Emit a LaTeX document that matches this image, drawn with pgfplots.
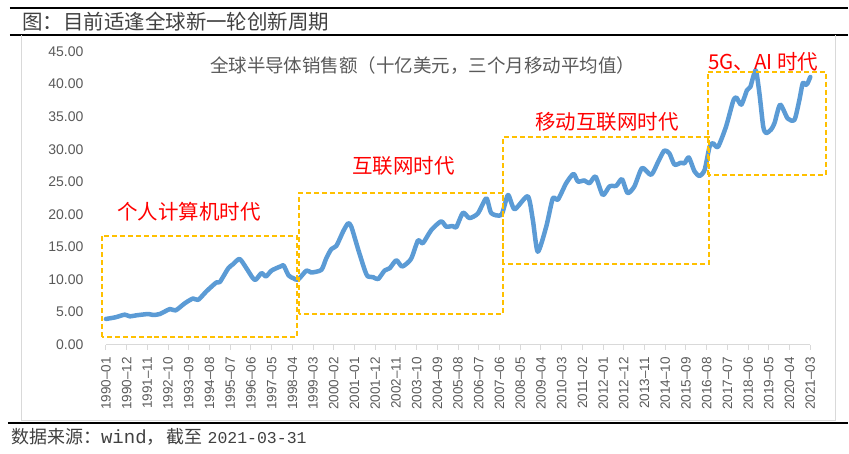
\documentclass[border=0pt]{standalone}
\usepackage{pgfplots}
\pgfplotsset{compat=1.18}
\usepackage{fontspec}
\setmainfont{Noto Sans CJK SC}
\newfontfamily\lsans{Liberation Sans}
\newfontfamily\lmono{Liberation Mono}
\definecolor{lineblue}{HTML}{5B9BD5}
\definecolor{boxor}{HTML}{FFC000}
\definecolor{tgray}{HTML}{595959}
\definecolor{dgray}{HTML}{404040}
\definecolor{axgray}{HTML}{D9D9D9}
\begin{document}
\begin{tikzpicture}
\begin{scope}[x=1pt,y=-1pt,shift={(-106pt,345pt)}]
\useasboundingbox (0,0) rectangle (849,454);
\end{scope}
\begin{axis}[
  at={(0,0)}, anchor=south west,
  scale only axis, width=705pt, height=293.4pt,
  xmin=0, xmax=374, ymin=0, ymax=45,
  clip=false,
  axis x line*=bottom, axis y line*=left,
  y axis line style={draw=none},
  x axis line style={draw=axgray, line width=1.5pt},
  ytick={0,5,...,45},
  ytick style={draw=none},
  xtick={0,11,...,374},
  xtick style={draw=axgray, line width=1pt},
  tick align=outside, major tick length=5pt,
  xticklabels={1990–01,1990–12,1991–11,1992–10,1993–09,1994–08,1995–07,1996–06,1997–05,1998–04,1999–03,2000–02,2001–01,2001–12,2002–11,2003–10,2004–09,2005–08,2006–07,2007–06,2008–05,2009–04,2010–03,2011–02,2012–01,2012–12,2013–11,2014–10,2015–09,2016–08,2017–07,2018–06,2019–05,2020–04,2021–03},
  xticklabel shift=4pt,
  xticklabel style={rotate=90, anchor=east, font=\lsans\fontsize{13.5}{15}\selectfont, text=tgray},
  yticklabel style={font=\lsans\fontsize{14}{16}\selectfont, text=tgray, xshift=-14pt,
     /pgf/number format/fixed, /pgf/number format/fixed zerofill, /pgf/number format/precision=2},
  /pgf/number format/assume math mode=true,
]
\addplot[lineblue, line width=4.5pt, smooth, tension=0.4, line join=round, line cap=round] coordinates {
(0,3.95) (5,4.2) (10,4.61) (12.7,4.35) (16,4.5) (22.5,4.71) (25,4.56) (28.6,4.71)
(34,5.47) (37,5.26) (42,6.38) (46.3,7.09) (49,6.88) (53.4,8.2) (58.7,9.57) (60.5,9.62)
(65,11.74) (67.5,12.35) (71,13.16) (74.6,11.74) (78,10.22) (79.6,9.97) (82.6,10.98) (85,10.48)
(88,11.39) (93,12.05) (94.4,12.15) (97,10.63) (99.4,10.22) (102,9.97) (106.5,11.39) (109,11.08)
(114.4,11.49) (117,13.26) (119.7,14.68) (122.4,15.18) (126,17.41) (128.6,18.63) (130.3,18.12) (134,14.58)
(137.4,11.49) (139,10.48) (141.8,10.38) (144.5,10.07) (148,11.39) (150.7,11.74) (154.2,12.96) (157.3,12.0)
(162,13.16) (165.7,15.99) (168.3,15.59) (172.8,17.61) (178,18.93) (180.7,18.12) (184.2,18.22) (186,18.02)
(189.6,20.25) (193,19.44) (197.5,20.14) (202,22.47) (204.6,20.2) (210,19.94) (213.5,22.98) (217,20.8)
(224,22.78) (226.7,19.13) (229.3,14.27) (233.8,18.12) (237.3,22.47) (240,22.27) (244.4,24.8) (248.3,26.22)
(250.6,25.05) (254,25.21) (256.8,24.8) (260,25.81) (263.8,22.98) (267.4,24.3) (271,24.4) (274,25.41)
(277,23.28) (280.6,24.3) (284.7,27.13) (289.5,26.07) (293.5,28.24) (296.5,29.81) (299.2,29.36) (301.9,27.64)
(305.4,27.94) (307.2,27.84) (309.5,28.75) (312.5,26.62) (315.2,25.91) (317.9,26.83) (320.5,30.37) (322.3,30.93)
(325,30.37) (329.3,33.51) (333,37.35) (334.7,37.96) (337.4,36.85) (340.4,39.07) (342.2,39.58) (345,42.11)
(347,38.57) (349,33.51) (350.5,32.49) (353.1,33.0) (355,34.01) (358,36.85) (362,34.72) (365.6,34.52)
(368.2,37.56) (370,40.14) (371.7,39.88) (372.6,40.14) (374,41.1)
};
\draw[boxor, line width=2pt, dash pattern=on 5pt off 3pt] (axis cs:-2.3,1.18) rectangle (axis cs:101.5,16.72);
\draw[boxor, line width=2pt, dash pattern=on 5pt off 3pt] (axis cs:102.4,4.75) rectangle (axis cs:210.8,23.27);
\draw[boxor, line width=2pt, dash pattern=on 5pt off 3pt] (axis cs:211.1,12.38) rectangle (axis cs:320,31.95);
\draw[boxor, line width=2pt, dash pattern=on 5pt off 3pt] (axis cs:319.5,26.07) rectangle (axis cs:382.3,41.92);
\end{axis}
\begin{scope}[x=1pt,y=-1pt,shift={(-106pt,345pt)}]
\draw[black, line width=1.5pt] (10,8) -- (849,8);
\draw[black, line width=1.2pt] (10,35) -- (849,35);
\draw[axgray, line width=1pt] (22,35) -- (22,420.5) -- (836,420.5) -- (836,35);
\draw[black, line width=1.5pt] (8,423.5) -- (849,423.5);
\node[anchor=west, inner sep=0pt, text=dgray, font=\fontsize{20.5}{24}\selectfont] at (22,22) {图：目前适逢全球新一轮创新周期};
\node[text=tgray, font=\fontsize{18.5}{22}\selectfont] at (423,66) {全球半导体销售额（十亿美元，三个月移动平均值）};
\node[text=red, font=\fontsize{20.5}{24}\selectfont] at (189,212) {个人计算机时代};
\node[text=red, font=\fontsize{20.5}{24}\selectfont] at (404,166) {互联网时代};
\node[text=red, font=\fontsize{20.5}{24}\selectfont] at (607.5,122) {移动互联网时代};
\node[text=red, font=\fontsize{20.5}{24}\selectfont] at (764,62) {5G、AI 时代};
\node[anchor=west, inner sep=0pt, text=dgray, font=\fontsize{18}{21}\selectfont] at (11,437) {数据来源：{\lmono\fontsize{19}{21}\selectfont wind}，\hspace{2pt}截至\hspace{5pt}{\lmono\fontsize{16.5}{21}\selectfont 2021-03-31}};
\end{scope}
\end{tikzpicture}
\end{document}
